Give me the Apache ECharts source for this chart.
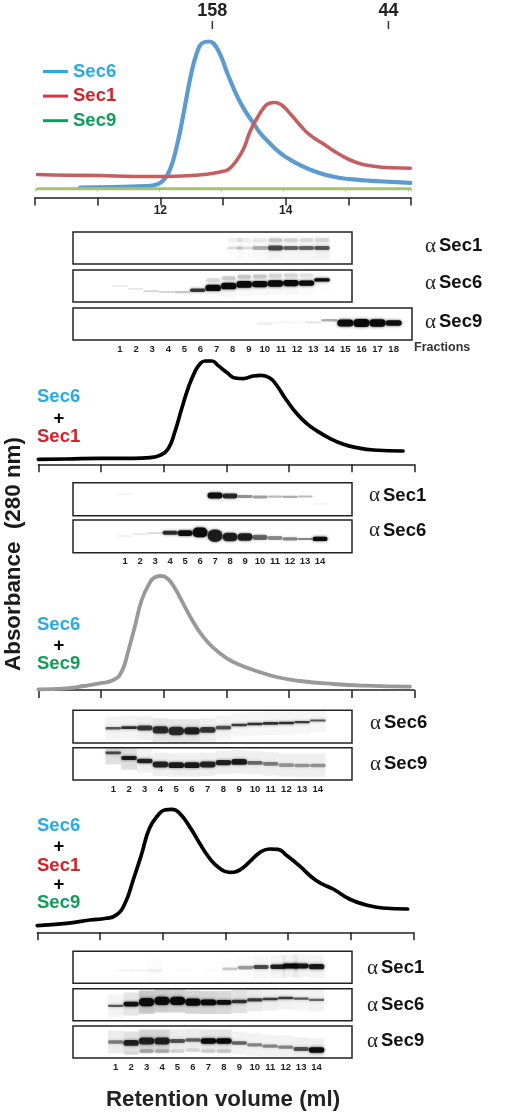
<!DOCTYPE html>
<html>
<head>
<meta charset="utf-8">
<style>html,body{margin:0;padding:0;background:#fff}#c{width:512px;height:1116px}</style>
<script src="https://cdn.jsdelivr.net/npm/echarts@6/dist/echarts.min.js"></script>
</head>
<body>
<div id="c"></div>
<script>
// ---------- Chromatograms: retention volume (ml) and absorbance (a.u.) ----------
const sec6Vol = [10.72,11.78,11.94,12.05,12.16,12.26,12.34,12.42,12.50,12.58,12.66,12.77,12.85,12.96,13.06,13.17,13.27,13.38,13.49,13.59,13.70,13.86,14.02,14.23,14.50,14.77,15.03,15.30,15.56,15.99];
const sec6Abs = [10,11.3,13,17.3,29,50.7,74,100.7,125.7,144,154,156,154,142.3,125.7,109,95.7,84,74,64.7,57.3,47.3,39.7,32.3,25.3,20.7,18.3,17,16,14.7];
const sec1Vol = [10.04,10.51,11.04,11.57,12.10,12.42,12.74,12.96,13.09,13.22,13.33,13.43,13.54,13.65,13.73,13.83,13.94,14.07,14.23,14.39,14.61,14.87,15.14,15.40,15.67,15.99];
const sec1Abs = [23,22.3,22,21,21,21.7,23.3,25.7,28.3,37.3,49,65.7,79,89.7,94,95,92.3,84,72.3,62.3,53.3,42.7,34.7,31.3,29.7,29.3];
const sec9Vol = [10.04,15.99];
const sec9Abs = [8.7,8.7];
const mixAVol = [10,10.45,10.98,11.52,11.78,11.94,12.07,12.18,12.29,12.39,12.5,12.58,12.66,12.77,12.87,13.01,13.14,13.27,13.43,13.56,13.70,13.80,13.96,14.12,14.28,14.44,14.65,14.87,15.08,15.35,15.82];
const mixAAbs = [5,5.3,6,6,6.7,9,15.3,32.7,56,76,92.7,100.3,103.3,103.3,98.7,91.7,86.3,85.7,88.3,89,86,79.3,64.3,51,41,33.7,26,20,16.7,14.3,13.3];
const mixBVol = [10,10.45,10.72,10.98,11.2,11.33,11.44,11.54,11.65,11.76,11.86,11.97,12.07,12.18,12.31,12.47,12.63,12.79,13.01,13.22,13.48,13.8,14.18,14.71,15.24,15.93];
const mixBAbs = [0.7,1.7,4,6.7,10,18.3,40,63.3,90,105,112.7,114,111,101.7,86.7,68.3,53.3,42.3,31.7,25,19,13,9,6,4.3,3.3];
const mixCVol = [10,10.47,10.84,11.10,11.26,11.40,11.53,11.66,11.79,11.93,12.03,12.14,12.27,12.43,12.59,12.75,12.91,13.07,13.23,13.39,13.55,13.71,13.84,13.97,14.18,14.45,14.72,14.98,15.25,15.51,15.91];
const mixCAbs = [6.7,9,12.3,14,17.3,29,52.3,77.3,104,117.3,122.3,123,119,105.7,89,74,64,60,62.3,70.7,79.7,83.3,83,77.3,66.7,51.7,43.3,33.3,27.3,24.3,23.3];
const markerVolumes = [12.83,15.64];
const markerMasses = ['158','44'];
const volumeTicks = [12,14];
const lanes14 = [1,2,3,4,5,6,7,8,9,10,11,12,13,14];
const lanes18 = [1,2,3,4,5,6,7,8,9,10,11,12,13,14,15,16,17,18];

// ---------- Blots: density, migration (% of box height), band spread, lane smear, ghost band ----------
const p1Sec1Lane = [1,2,3,4,5,6,7,8.4,9.0,10,11,12,13,14];
const p1Sec1Int = [0,0,0,0,0,0,0,.12,.12,.28,.65,.55,.55,.6];
const p1Sec1Pos = [50,50,50,50,50,50,50,50,50,50,50,50,50,50];
const p1Sec1Spread = [6,6,6,6,6,6,6,10,10,12,15,12,12,12];
const p1Sec1Smear = [0,0,0,0,0,0,0,.01,.02,.03,.05,.04,.04,.06];
const p1Sec1Ghost = [0,0,0,0,0,0,0,.06,.06,.07,.18,.14,.12,.12];

const p1Sec6Int = [.08,.1,.16,.16,.22,.75,1,1,1,1,1,1,1,1];
const p1Sec6Pos = [50,41,34,31,31,37,44,50,55,56,58,59,59,69];
const p1Sec6Spread = [5,5,6,6,7,11,20,21,21,20,20,19,17,10];
const p1Sec6Smear = [0,0,0,0,0,0,.02,.03,.03,.03,.03,.03,.02,.01];
const p1Sec6Ghost = [0,0,0,0,0,0,.14,.18,.2,.2,.15,.14,.1,0];

const p1Sec9Int = [0,0,0,0,0,0,0,0,0,.06,.04,.03,.1,.3,1,1,1,.95];
const p1Sec9Pos = [53,53,53,53,53,53,53,53,53,52,55,55,55,62,53,53,53,53];
const p1Sec9Spread = [9,9,9,9,9,9,9,9,9,10,7,7,7,8,22,25,23,17];

const p2Sec1Int = [.07,0,0,0,0,0,.95,.8,.4,.35,.25,.3,.25,.05];
const p2Sec1Pos = [66,60,60,60,60,60,61,60,58,57,58,57,58,36];
const p2Sec1Spread = [3,6,6,6,6,6,18,15,9,9,7,7,6,5];

const p2Sec6Int = [.1,.13,.2,.8,.95,1,.85,.85,.85,.55,.42,.45,.45,1];
const p2Sec6Pos = [51,57,60,61,60,62,52,48,48,47,45,42,42,42];
const p2Sec6Spread = [3,4,4,12,18,30,38,26,23,16,12,10,6,13];

const p3Sec6Int = [.6,.78,.72,.78,.78,.82,.72,.62,.72,.78,.78,.78,.72,.62];
const p3Sec6Pos = [45,47,46,40,37,37,40,47,55,58,60,61,64,69];
const p3Sec6Spread = [8,8,15,22,26,22,18,11,8,8,8,8,7,6];
const p3Sec6Smear = [.05,.05,.07,.1,.1,.1,.07,.05,.04,.04,.04,.04,.04,.04];

const p3Sec9Int = [.65,.88,.82,.82,.88,.88,.82,.82,.88,.52,.45,.36,.36,.36];
const p3Sec9Pos = [84,68,59,48,46,46,48,54,56,53,50,46,45,45];
const p3Sec9Spread = [9,12,14,18,18,18,18,16,18,11,11,11,11,11];
const p3Sec9Smear = [.13,.13,.06,.07,.07,.07,.07,.07,.07,.07,.07,.07,.07,.07];

const p4Sec1Lane = [1.6,2.5,3.5,5.5,7.3,8.4,9.4,10.4,11.5,12.3,13,14];
const p4Sec1Int = [.05,.05,.07,.03,.03,.2,.35,.65,.85,1,.9,.88];
const p4Sec1Pos = [40,40,40,40,40,45,49,51,52,54,54,52];
const p4Sec1Spread = [6,6,6,5,5,8,11,12,14,16,15,16];
const p4Sec1Smear = [0,0,.01,0,0,.01,.02,.04,.05,.05,.05,.05];

const p4Sec6Int = [.6,.92,.97,1,1,1,1,.95,.75,.72,.72,.72,.6,.55];
const p4Sec6Pos = [46,52,58,62,62,58,57,57,60,65,68,71,69,65];
const p4Sec6Spread = [7,15,26,26,26,22,18,15,11,10,8,8,7,7];
const p4Sec6Smear = [.05,.1,.22,.2,.18,.17,.17,.15,.12,.09,.07,.06,.05,.06];

const p4Sec9Int = [.45,.82,.82,.82,.6,.55,1,1,.55,.42,.42,.42,.62,1];
const p4Sec9Pos = [50,47,53,53,53,56,53,53,47,41,37,34,28,25];
const p4Sec9Spread = [11,18,22,22,13,11,17,17,11,10,10,10,12,17];
const p4Sec9Smear = [.08,.12,.17,.17,.08,.08,.1,.1,.06,.06,.06,.06,.07,.07];
const p4Sec9Ghost = [0,.06,.25,.22,.12,.1,.12,.15,0,0,0,0,0,0];

// ---------- Layout ----------
const INK = '#1f1f1f', FONT = '"Liberation Sans", Arial, sans-serif';
const C6 = '#29abe2', C1 = '#d2232a', C9 = '#0f9d58';
const grids = [], xAxes = [], yAxes = [], series = [];

function addCurvePanel(left, bottom, height, maxAbs, showLabels) {
  const i = grids.length;
  grids.push({left, width: 376, top: bottom - height, height});
  xAxes.push({
    type: 'value', gridIndex: i, min: 10, max: 16, interval: 1,
    axisLine: {show: true, onZero: false, lineStyle: {color: '#222', width: 1.5}},
    axisTick: {show: true, length: 8, lineStyle: {color: '#222', width: 1.5}},
    axisLabel: {
      show: showLabels, margin: 7, color: INK, fontFamily: FONT, fontWeight: 'bold', fontSize: 12,
      formatter: v => volumeTicks.includes(v) ? String(v) : ''
    },
    splitLine: {show: false}
  });
  yAxes.push({type: 'value', gridIndex: i, min: 0, max: maxAbs, show: false, splitLine: {show: false}});
  return i;
}
function addLine(g, name, xs, ys, color, width) {
  series.push({
    type: 'line', name, xAxisIndex: g, yAxisIndex: g, smooth: 0.5, symbol: 'none', clip: false,
    data: xs.map((x, k) => [x, ys[k]]),
    lineStyle: {color, width, cap: 'round', join: 'round'}, z: 3
  });
}

function bandRender(ghostStep) {
  return function (params, api) {
    const lane = api.value(0), pos = api.value(1), den = api.value(2),
          spread = api.value(3), smear = api.value(4), ghost = api.value(5);
    const c = api.coord([lane, pos]);
    const w = api.size([1, 0])[0];
    const h = Math.max(api.size([0, spread])[1], 1);
    const boxH = api.size([0, 100])[1];
    const kids = [];
    if (smear > 0) {
      kids.push({type: 'rect', shape: {x: c[0] - w / 2, y: c[1] - boxH * 0.36, width: w, height: boxH * 0.72},
        style: {fill: 'rgba(30,30,30,' + smear + ')', shadowBlur: 3, shadowColor: 'rgba(30,30,30,' + smear + ')'}});
    }
    if (ghost > 0) {
      kids.push({type: 'rect', shape: {x: c[0] - w * .45, y: c[1] + ghostStep * boxH / 100 - 2, width: w * .9, height: 4, r: 2},
        style: {fill: 'rgba(30,30,30,' + ghost + ')', shadowBlur: 3, shadowColor: 'rgba(30,30,30,' + ghost + ')'}});
    }
    if (den > 0) {
      kids.push({type: 'rect', shape: {x: c[0] - w * .5, y: c[1] - h / 2, width: w, height: h, r: h / 2},
        style: {fill: 'rgba(10,10,10,' + den + ')', shadowBlur: 3, shadowColor: 'rgba(10,10,10,' + den * .8 + ')'}});
    }
    return {type: 'group', children: kids};
  };
}

function addBlot(b) {
  const i = grids.length;
  grids.push({left: 73, width: b.right - 73, top: b.top, height: b.bottom - b.top,
    show: true, backgroundColor: '#fff', borderColor: '#222', borderWidth: 1.5, z: 1});
  const labels = b.labels || null;
  xAxes.push({
    type: 'value', gridIndex: i, min: b.min, max: b.max,
    axisLine: {show: false}, axisTick: {show: false}, splitLine: {show: false},
    axisLabel: labels ? {show: true, customValues: labels, margin: 4, color: INK, fontFamily: FONT,
      fontWeight: 'bold', fontSize: 9.5} : {show: false}
  });
  yAxes.push({type: 'value', gridIndex: i, min: 0, max: 100, show: false, splitLine: {show: false}});
  const lanes = b.lane || b.int.map((_, k) => k + 1);
  series.push({
    type: 'custom', name: b.name, xAxisIndex: i, yAxisIndex: i, clip: true, z: 2,
    renderItem: bandRender(b.ghostStep === undefined ? -24 : b.ghostStep),
    encode: {x: 0, y: 1},
    data: b.int.map((v, k) => [lanes[k], b.pos[k], v, b.spread[k],
      b.smear ? b.smear[k] : 0, b.ghost ? b.ghost[k] : 0])
  });
}

// Panel 1: individual proteins
const g0 = addCurvePanel(35, 197.5, 180, 180, true);
addLine(g0, 'Sec6', sec6Vol, sec6Abs, '#5b9bd0', 4.2);
addLine(g0, 'Sec1', sec1Vol, sec1Abs, '#c55f5f', 3.6);
addLine(g0, 'Sec9', sec9Vol, sec9Abs, '#a5c46a', 3);
series.push({
  type: 'scatter', name: 'Markers', xAxisIndex: g0, yAxisIndex: g0, symbol: 'rect', symbolSize: [1.5, 8], clip: false,
  itemStyle: {color: '#333', opacity: 1},
  data: markerVolumes.map((v, k) => ({value: [v, 172.5], name: markerMasses[k]})),
  label: {show: true, position: 'top', distance: 1, formatter: p => p.name, color: '#222', opacity: 1, fontFamily: FONT,
    fontWeight: 'bold', fontSize: 18},
  z: 4
});

addBlot({name: 'p1 Sec1', top: 232, bottom: 264, right: 352, min: -2.02, max: 15.93, int: p1Sec1Int, lane: p1Sec1Lane, pos: p1Sec1Pos, spread: p1Sec1Spread, smear: p1Sec1Smear, ghost: p1Sec1Ghost});
addBlot({name: 'p1 Sec6', top: 270, bottom: 302, right: 352, min: -2.02, max: 15.93, int: p1Sec6Int, pos: p1Sec6Pos, spread: p1Sec6Spread, smear: p1Sec6Smear, ghost: p1Sec6Ghost});
addBlot({name: 'p1 Sec9', top: 308, bottom: 340, right: 412, min: -1.92, max: 19.14, int: p1Sec9Int, pos: p1Sec9Pos, spread: p1Sec9Spread, labels: lanes18});

// Panel 2: Sec6 + Sec1
const g1 = addCurvePanel(38.3, 464.3, 115, 115, false);
addLine(g1, 'Sec6+Sec1', mixAVol, mixAAbs, '#000', 3.7);
addBlot({name: 'p2 Sec1', top: 482.7, bottom: 515.7, right: 352, min: -2.47, max: 16.13, int: p2Sec1Int, pos: p2Sec1Pos, spread: p2Sec1Spread});
addBlot({name: 'p2 Sec6', top: 520, bottom: 552.7, right: 352, min: -2.47, max: 16.13, int: p2Sec6Int, pos: p2Sec6Pos, spread: p2Sec6Spread, labels: lanes14});

// Panel 3: Sec6 + Sec9
const g2 = addCurvePanel(38.3, 690, 125, 125, false);
addLine(g2, 'Sec6+Sec9', mixBVol, mixBAbs, '#999', 3.8);
addBlot({name: 'p3 Sec6', top: 710.3, bottom: 743, right: 352, min: -1.56, max: 16.17, int: p3Sec6Int, pos: p3Sec6Pos, spread: p3Sec6Spread, smear: p3Sec6Smear});
addBlot({name: 'p3 Sec9', top: 747.7, bottom: 780, right: 352, min: -1.56, max: 16.17, int: p3Sec9Int, pos: p3Sec9Pos, spread: p3Sec9Spread, smear: p3Sec9Smear, labels: lanes14});

// Panel 4: Sec6 + Sec1 + Sec9
const g3 = addCurvePanel(37.3, 932.3, 130, 130, false);
addLine(g3, 'Sec6+Sec1+Sec9', mixCVol, mixCAbs, '#000', 3.7);
addBlot({name: 'p4 Sec1', top: 951.3, bottom: 983.3, right: 352, min: -1.76, max: 16.29, int: p4Sec1Int, lane: p4Sec1Lane, pos: p4Sec1Pos, spread: p4Sec1Spread, smear: p4Sec1Smear});
addBlot({name: 'p4 Sec6', top: 988.7, bottom: 1020.7, right: 352, min: -1.76, max: 16.29, int: p4Sec6Int, pos: p4Sec6Pos, spread: p4Sec6Spread, smear: p4Sec6Smear});
addBlot({name: 'p4 Sec9', top: 1026, bottom: 1058, right: 352, min: -1.76, max: 16.29, int: p4Sec9Int, pos: p4Sec9Pos, spread: p4Sec9Spread, smear: p4Sec9Smear, ghost: p4Sec9Ghost, ghostStep: 32, labels: lanes14});

// faint baseline axis under the green trace, kept last so axis indices stay aligned with grids
xAxes.push({type: 'value', gridIndex: g0, min: 10, max: 16.05, interval: 1, position: 'bottom', offset: -8,
  axisLine: {show: true, onZero: false, lineStyle: {color: '#bbb', width: 1}},
  axisTick: {show: true, length: 2, lineStyle: {color: '#bbb', width: 1}},
  axisLabel: {show: false}, splitLine: {show: false}});

// ---------- Text ----------
function txt(text, x, y, fill, size, extra) {
  return {type: 'text', x, y, z: 10, style: Object.assign({
    text, fill, font: 'bold ' + size + 'px ' + FONT, textAlign: 'left', textVerticalAlign: 'middle'}, extra || {})};
}
function alphaLabel(name, x, y) {
  return {type: 'text', x, y, z: 10, style: {
    text: '{a|α}{b|' + name + '}', textVerticalAlign: 'middle', textAlign: 'left',
    rich: {
      a: {font: '21px "Liberation Serif", serif', fill: INK, padding: [0, 3, 0, 0]},
      b: {font: 'bold 18.5px ' + FONT, fill: '#111'}
    }}};
}
const graphics = [
  txt('Sec6', 37, 396.7, C6, 18.5), txt('+', 59, 418.7, '#000', 18.5, {textAlign: 'center'}), txt('Sec1', 37, 437, C1, 18.5),
  txt('Sec6', 37, 625, C6, 18.5), txt('+', 59, 645.7, '#000', 18.5, {textAlign: 'center'}), txt('Sec9', 37, 663.7, C9, 18.5),
  txt('Sec6', 37, 825.7, C6, 18.5), txt('+', 59, 847, '#000', 18.5, {textAlign: 'center'}),
  txt('Sec1', 37, 866, C1, 18.5), txt('+', 59, 885, '#000', 18.5, {textAlign: 'center'}), txt('Sec9', 37, 903, C9, 18.5),
  alphaLabel('Sec1', 425, 246), alphaLabel('Sec6', 425, 283), alphaLabel('Sec9', 425, 322),
  alphaLabel('Sec1', 369, 495.7), alphaLabel('Sec6', 369, 530.7),
  alphaLabel('Sec6', 370, 723), alphaLabel('Sec9', 370, 764),
  alphaLabel('Sec1', 367, 968), alphaLabel('Sec6', 367, 1005), alphaLabel('Sec9', 367, 1041),
  txt('Fractions', 414, 348, '#333', 12.5),
  txt('Retention volume (ml)', 223, 1100, '#222', 22.3, {textAlign: 'center'}),
  {type: 'text', x: 14, y: 554, rotation: Math.PI / 2, z: 10, style: {
    text: 'Absorbance  (280 nm)', fill: '#1a1a1a', font: 'bold 22.4px ' + FONT, textAlign: 'center', textVerticalAlign: 'middle'}}
];

const chart = echarts.init(document.getElementById('c'), null, {renderer: 'canvas', width: 512, height: 1116});
chart.setOption({
  animation: false,
  backgroundColor: '#fff',
  legend: {
    show: true, orient: 'vertical', left: 43, top: 62, padding: 0, itemWidth: 25, itemHeight: 3, itemGap: 5.6, icon: 'rect',
    textStyle: {fontFamily: FONT, fontWeight: 'bold', fontSize: 18.5},
    data: [
      {name: 'Sec6', itemStyle: {color: C6}, lineStyle: {color: C6}, textStyle: {color: C6}},
      {name: 'Sec1', itemStyle: {color: '#d4373f'}, lineStyle: {color: '#d4373f'}, textStyle: {color: C1}},
      {name: 'Sec9', itemStyle: {color: '#0f9d58'}, lineStyle: {color: '#0f9d58'}, textStyle: {color: C9}}
    ]
  },
  grid: grids,
  xAxis: xAxes,
  yAxis: yAxes,
  series,
  graphic: graphics
});
</script>
</body>
</html>
